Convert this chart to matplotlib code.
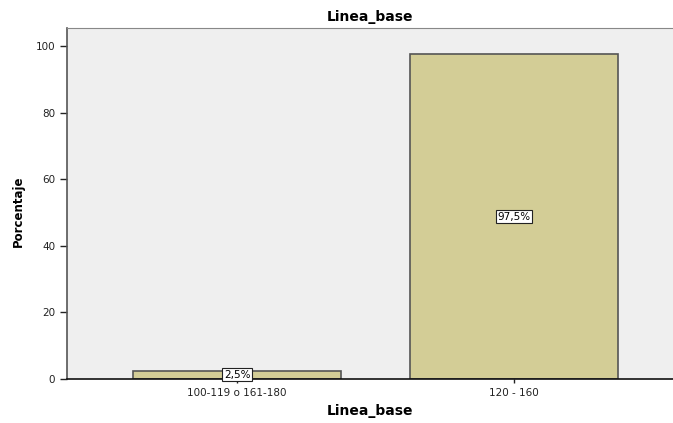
import matplotlib
matplotlib.use("Agg")
import matplotlib.pyplot as plt

categories = ["100-119 o 161-180", "120 - 160"]
values = [2.5, 97.5]
labels = ["2,5%", "97,5%"]
yticks = [0, 20, 40, 60, 80, 100]

fig = plt.figure(figsize=(6.73, 4.23), dpi=100)
ax = fig.add_axes([67/673, 44/423, 1 - 67/673, (379-28)/423])
ax.set_facecolor("#efefef")
x = list(range(len(categories)))
ax.bar(x, values, width=0.75, color="#d3cd96", edgecolor="#555555", linewidth=1.2, zorder=2)
ax.set_xlim(-0.614, 1.574)
ax.set_ylim(0, 105.4)
ax.set_yticks(yticks)
ax.set_xticks(x)
ax.set_xticklabels(categories)
ax.tick_params(axis="both", labelsize=7.5, colors="#222222", length=5, width=1)
ax.tick_params(axis="x", length=3)
ax.spines["right"].set_visible(False)
ax.spines["top"].set_color("#888888")
ax.spines["left"].set_color("#555555")
ax.spines["left"].set_linewidth(1.2)
ax.spines["bottom"].set_color("#111111")
ax.spines["bottom"].set_linewidth(1.2)
ax.spines["bottom"].set_zorder(3)

for i, (v, lab) in enumerate(zip(values, labels)):
    yy = v / 2 if v > 10 else v * 0.5
    ax.text(i, yy, lab, ha="center", va="center", fontsize=7.5, zorder=4,
            bbox=dict(boxstyle="square,pad=0.15", facecolor="white", edgecolor="#222222", linewidth=0.8))

ax.set_title("Linea_base", fontsize=10, fontweight="bold", pad=5)
fig.text(370/673, 1 - 411/423, "Linea_base", fontsize=10, fontweight="bold", ha="center", va="center")
fig.text(18/673, 1 - 211/423, "Porcentaje", fontsize=8.5, fontweight="bold", ha="center", va="center", rotation=90)
fig.savefig("out.png", dpi=100)
